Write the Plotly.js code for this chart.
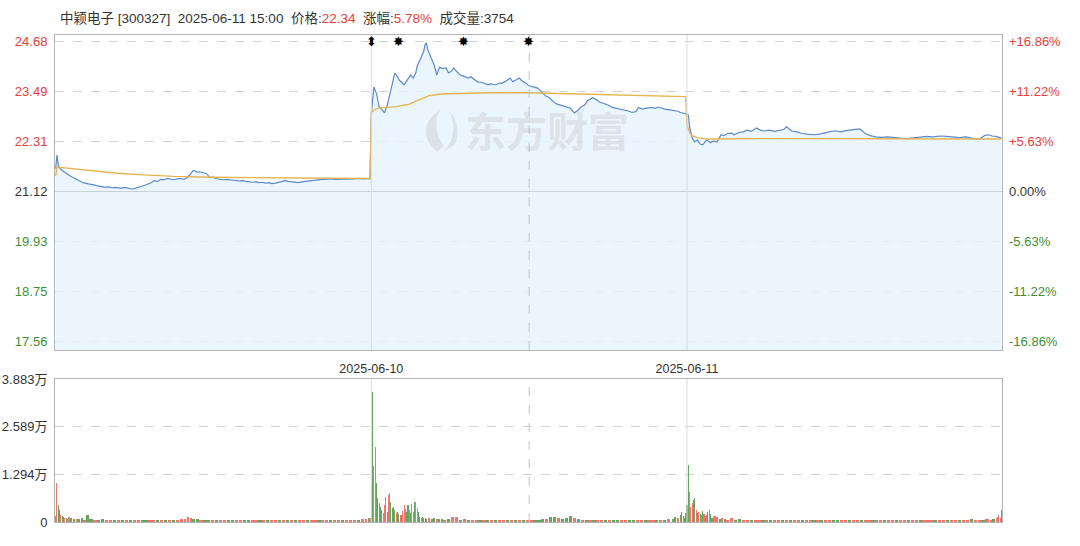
<!DOCTYPE html>
<html><head><meta charset="utf-8">
<script src="https://cdn.plot.ly/plotly-3.0.1.min.js"></script>
<style>html,body{margin:0;padding:0;background:#fff}#chart{width:1080px;height:546px}</style>
</head><body><div id="chart"></div>
<script>
// ---- data ----
const stockName = '中颖电子';
const stockCode = '300327';
const quoteTime = '2025-06-11 15:00';
const lastPrice = '22.34';
const changePct = '5.78%';
const lastVolume = '3754';
const prevClose = 21.12;

const priceTicks = [24.68, 23.49, 22.31, 21.12, 19.93, 18.75, 17.56];
const pctLabels = ['+16.86%', '+11.22%', '+5.63%', '0.00%', '-5.63%', '-11.22%', '-16.86%'];
const volTicks = [0, 12940, 25890, 38830];
const volLabels = ['0', '1.294万', '2.589万', '3.883万'];
const dayTickIdx = [241, 482];
const dayLabels = ['2025-06-10', '2025-06-11'];
const middayIdx = [361.5];
const eventIdx = [241, 262, 311, 361];
const eventSymbols = ['⬍', '✸', '✸', '✸'];

// minute index (3 sessions x 241 minutes) and price
const priceIdx = [
  0,1,2,3,5,8,10,12,14,17,19,21,25,28,30,33,35,38,40,43,45,48,50,53,55,58,60,63,65,68,70,73,75,78,80,83,85,88,90,93,95,98,100,102,103,105,107,108,110,112,115,118,120,122,125,128,131,135,138,140,143,145,148,150,153,155,158,160,163,165,168,170,173,175,178,180,183,185,188,190,193,195,198,200,203,205,208,210,213,215,218,220,223,225,228,230,233,235,238,240,
  241,242,243,244,245,247,249,251,253,255,257,259,261,262,264,266,268,271,273,275,276,278,280,281,282,283,284,286,288,289,291,293,295,298,300,302,304,306,309,311,313,315,317,320,322,325,327,330,332,336,339,341,344,347,349,351,354,356,359,361,364,366,368,370,372,374,377,379,381,383,385,388,390,393,396,399,401,404,406,410,413,415,418,420,423,425,428,430,433,436,438,440,443,445,448,450,453,455,458,460,463,465,468,470,473,475,477,479,481,
  482,483,484,486,488,490,492,494,497,500,502,505,508,510,513,516,518,522,525,528,531,535,538,541,545,549,553,556,558,562,566,570,575,580,584,588,592,596,600,603,607,611,614,618,622,626,630,635,640,645,650,655,660,665,670,675,680,685,690,695,700,703,706,709,712,715,718,722
];
const price = [
  21.66,21.99,21.75,21.68,21.62,21.55,21.50,21.47,21.44,21.40,21.37,21.33,21.30,21.29,21.27,21.25,21.24,21.22,21.23,21.21,21.22,21.21,21.20,21.22,21.21,21.18,21.19,21.21,21.24,21.27,21.30,21.33,21.38,21.36,21.41,21.40,21.43,21.41,21.40,21.42,21.43,21.41,21.44,21.50,21.55,21.62,21.60,21.58,21.59,21.57,21.55,21.45,21.46,21.43,21.41,21.40,21.41,21.39,21.38,21.37,21.38,21.36,21.35,21.34,21.35,21.33,21.34,21.32,21.33,21.31,21.32,21.34,21.36,21.38,21.36,21.35,21.34,21.33,21.35,21.36,21.37,21.38,21.39,21.40,21.41,21.41,21.42,21.42,21.41,21.41,21.42,21.42,21.41,21.41,21.42,21.43,21.42,21.42,21.43,21.42,
  22.99,23.30,23.61,23.52,23.45,23.13,23.08,22.99,23.15,23.42,23.70,23.94,23.85,23.78,23.72,23.66,23.75,23.89,23.82,23.95,24.10,24.25,24.37,24.45,24.61,24.66,24.50,24.37,24.20,24.13,23.89,24.08,24.05,24.06,23.94,23.98,24.06,23.98,23.89,23.87,23.85,23.82,23.85,23.78,23.73,23.72,23.70,23.66,23.68,23.66,23.70,23.70,23.75,23.82,23.73,23.76,23.82,23.75,23.70,23.64,23.61,23.60,23.58,23.52,23.45,23.40,23.35,23.28,23.23,23.20,23.18,23.15,23.13,23.10,22.99,23.06,23.13,23.18,23.28,23.35,23.30,23.25,23.22,23.20,23.16,23.12,23.10,23.08,23.06,23.04,23.03,23.00,23.02,23.12,23.08,23.10,23.11,23.12,23.10,23.13,23.10,23.08,23.07,23.06,23.04,23.03,23.00,22.99,22.97,22.96,22.94,
  22.66,22.39,22.30,22.35,22.25,22.23,22.35,22.28,22.32,22.30,22.47,22.45,22.50,22.51,22.47,22.53,22.54,22.58,22.55,22.63,22.58,22.56,22.58,22.55,22.57,22.60,22.66,22.56,22.54,22.50,22.48,22.47,22.49,22.52,22.55,22.56,22.54,22.57,22.58,22.60,22.61,22.50,22.45,22.42,22.41,22.42,22.40,22.39,22.38,22.40,22.42,22.43,22.42,22.44,22.43,22.42,22.40,22.42,22.38,22.37,22.38,22.45,22.47,22.44,22.43,22.39,22.37,22.34
];

const avgIdx = [0,1,5,15,30,45,60,90,120,160,200,240, 241,243,247,252,260,270,278,285,295,310,330,360,390,420,450,481, 482,484,486,490,495,500,540,600,660,722];
const avgPrice = [21.49,21.70,21.69,21.66,21.60,21.56,21.53,21.48,21.46,21.45,21.44,21.43, 22.99,23.06,23.11,23.12,23.14,23.20,23.30,23.40,23.44,23.46,23.47,23.47,23.45,23.42,23.40,23.38, 22.70,22.52,22.45,22.40,22.38,22.37,22.38,22.38,22.38,22.37];

const volIdx = [
  0,1,2,3,4,5,6,7,8,9,10,12,14,16,18,20,22,24,27,30,33,36,39,42,45,48,51,54,57,60,63,66,69,72,75,78,81,84,87,90,93,96,99,101,103,105,108,111,114,117,120,123,126,129,132,135,138,141,144,147,150,153,156,159,162,165,168,171,174,177,180,183,186,189,192,195,198,201,204,207,210,213,216,219,222,225,228,231,234,237,239,240,
  241,242,243,244,245,246,247,248,249,250,251,252,253,254,255,256,257,258,259,260,261,262,263,264,265,266,267,268,269,270,271,272,273,274,275,276,277,278,279,280,281,282,283,285,287,289,291,293,295,297,
  300,303,306,309,312,315,318,321,324,327,330,333,336,339,342,345,348,351,354,357,360,363,366,369,372,375,378,381,384,387,390,393,396,399,402,405,408,411,414,417,420,423,426,429,432,435,438,441,444,447,450,453,456,459,462,465,468,471,473,475,477,478,479,480,481,
  482,483,484,485,486,487,488,489,490,491,492,493,494,495,496,497,498,499,500,501,503,505,507,509,511,513,
  516,519,522,525,528,531,534,537,540,543,546,549,552,555,558,561,564,567,570,573,576,579,582,585,588,591,594,597,600,603,606,609,612,615,618,621,624,627,630,633,636,639,642,645,648,651,654,657,660,663,666,669,672,675,678,681,684,687,690,693,696,699,702,705,708,711,714,716,718,719,720,721,722
];
const volume = [
  1600,10600,4600,3300,1900,1600,1400,1200,1100,900,1300,1000,800,900,700,1100,600,1900,700,600,500,800,500,400,600,500,400,600,500,400,500,400,500,400,600,500,400,500,400,600,500,700,900,1400,1200,800,700,500,600,400,500,400,500,400,500,400,400,500,400,500,400,500,400,400,500,400,400,600,500,400,500,400,400,500,400,500,400,500,400,500,400,500,400,500,400,500,600,500,700,900,1000,1200,
  10000,35300,15200,20400,10600,6500,5200,4100,3300,2500,4600,6800,2600,7300,7900,5400,3800,4100,3300,2500,2800,2200,2000,1800,3000,4600,3500,2600,4600,3300,2500,4800,2800,5400,5400,3800,2700,1400,1200,1400,1100,1200,900,1100,800,1000,900,700,800,600,
  700,1400,1400,600,700,500,600,500,400,500,400,500,400,500,400,500,400,500,400,500,400,600,500,600,900,700,1400,1400,1000,700,1000,1500,1200,700,500,600,400,500,400,500,400,500,400,600,400,500,400,500,400,500,400,500,400,500,400,600,700,800,1400,1100,1900,2600,1500,1200,2400,
  4600,15500,8100,4100,5200,6000,6500,3300,2500,2800,2200,1900,3000,2200,1500,2000,2600,3300,2200,1200,1500,1300,900,1100,700,600,
  1000,500,800,500,600,400,500,400,500,400,400,500,400,500,400,400,500,400,400,500,400,500,400,600,400,500,400,600,500,400,500,400,500,400,400,500,400,500,400,500,400,400,500,400,500,400,400,500,400,500,400,600,500,400,500,400,500,400,500,600,500,700,500,600,500,700,600,800,1000,1400,1900,1200,3300
];
const volDir = (
  'rrggrggrgr rggrggrggr ggrrgrgrgr rggrrgrgrg rrrrrggrgg rgrrggrrgg rrgrgrrgrg rgrrgrrgrr grrgrrrgrr gr ' +
  'rgrrgggggr rrgrrggggr ggrgrrrggr grrgrrggrg grg rggrggr ' +
  'grrgrgrrgr grgrrgrgrg rrgggrggrg ggrgrgrgrr grggrrggrr grrgrgrg grggrgg ' +
  'ggrrrggrgr grgrgrgrgg rrgrgr ' +
  'rggrrgrrgr grrgrgrrgr rgrgrrggrr grrgrrgrrg rrgrrgrrgr rrgrrgrrgr rgrrgrr grrrrg'
).replace(/\s+/g, '').split('');

// ---- drawing ----
const RED = '#e8413a', GREEN = '#3f8f2f', DARK = '#333333';
const FONT = 'Liberation Sans, Arial, Noto Sans CJK SC, sans-serif';

const leftTickText = priceTicks.map(v => {
  const c = v > prevClose ? RED : (v < prevClose ? GREEN : DARK);
  return '<span style="color:' + c + '">' + v.toFixed(2) + '</span>';
});
const rightTickText = pctLabels.map(t => {
  const c = t.startsWith('+') ? RED : (t.startsWith('-') ? GREEN : DARK);
  return '<span style="color:' + c + '">' + t + '</span>';
});

const volWidths = volIdx.map((v, i) => {
  const next = i < volIdx.length - 1 ? volIdx[i + 1] - v : 1;
  return Math.max(0.75, Math.min(next, 3) * 0.8);
});
const volColors = volDir.map(d => d === 'r' ? 'rgba(240,70,60,0.75)' : 'rgba(50,135,40,0.75)');

const traces = [
  {x: priceIdx, y: price, type: 'scatter', mode: 'lines', fill: 'tozeroy',
   fillcolor: 'rgba(232,243,253,0.85)', line: {color: '#5b89c9', width: 1.2},
   xaxis: 'x', yaxis: 'y', hoverinfo: 'skip'},
  {x: avgIdx, y: avgPrice, type: 'scatter', mode: 'lines',
   line: {color: '#e3b24c', width: 1.3}, xaxis: 'x', yaxis: 'y', hoverinfo: 'skip'},
  {x: [0], y: [prevClose], type: 'scatter', mode: 'markers', marker: {opacity: 0},
   xaxis: 'x', yaxis: 'y2', hoverinfo: 'skip'},
  {x: volIdx, y: volume, type: 'bar', width: volWidths, marker: {color: volColors, line: {width: 0}},
   xaxis: 'x2', yaxis: 'y3', hoverinfo: 'skip'}
];

const xr = [-0.5, 722.5];
const priceRange = [17.35, 24.85];

// pixel helpers for the decorative watermark logo only
const PX = px => (px - 55) / 947 * 723 - 0.5;
const PY = py => 24.85 - (py - 34.7) * 7.5 / 315.3;
const pt = (x, y) => PX(x).toFixed(2) + ',' + PY(y).toFixed(3);

const shapes = [
  {type: 'line', xref: 'x domain', yref: 'y', x0: 0, x1: 1, y0: prevClose, y1: prevClose,
   line: {color: '#c9d1d9', width: 1}},
  {type: 'path', xref: 'x', yref: 'y', layer: 'above', line: {width: 0}, fillcolor: 'rgba(185,185,185,0.30)',
   path: 'M' + pt(437, 152) + ' Q' + pt(412, 130) + ' ' + pt(441, 108) + ' Q' + pt(430, 128) + ' ' + pt(444, 146) + ' Z'},
  {type: 'path', xref: 'x', yref: 'y', layer: 'above', line: {width: 0}, fillcolor: 'rgba(185,185,185,0.30)',
   path: 'M' + pt(444, 152) + ' Q' + pt(460, 132) + ' ' + pt(449, 110) + ' Q' + pt(462, 126) + ' ' + pt(455, 144) + ' Z'},
];
dayTickIdx.forEach(d => {
  shapes.push({type: 'line', xref: 'x', yref: 'y domain', x0: d, x1: d, y0: 0, y1: 1, line: {color: '#dcdcdc', width: 1}});
  shapes.push({type: 'line', xref: 'x2', yref: 'y3 domain', x0: d, x1: d, y0: 0, y1: 1, line: {color: '#dcdcdc', width: 1}});
});
middayIdx.forEach(d => {
  shapes.push({type: 'line', xref: 'x', yref: 'y domain', x0: d, x1: d, y0: 0, y1: 1, line: {color: '#c4c4c4', width: 1, dash: 'dash'}});
  shapes.push({type: 'line', xref: 'x2', yref: 'y3 domain', x0: d, x1: d, y0: 0, y1: 1, line: {color: '#c4c4c4', width: 1, dash: 'dash'}});
});

const annotations = [
  {xref: 'paper', yref: 'paper', x: 0.003, y: 0.967, xanchor: 'left', yanchor: 'middle', showarrow: false,
   font: {family: FONT, size: 13.5, color: DARK},
   text: stockName + ' [' + stockCode + ']&nbsp;&nbsp;' + quoteTime + '&nbsp;&nbsp;价格:<span style="color:' + RED + '">' + lastPrice +
         '</span>&nbsp;&nbsp;涨幅:<span style="color:' + RED + '">' + changePct + '</span>&nbsp;&nbsp;成交量:' + lastVolume},
  {xref: 'x', yref: 'y', x: PX(547), y: PY(129), xanchor: 'center', yanchor: 'middle', showarrow: false,
   font: {family: 'Noto Sans CJK SC', size: 41, color: 'rgba(175,175,175,0.26)', weight: 'bold'}, text: '东方财富'},
];
eventIdx.forEach((e, i) => {
  annotations.push({xref: 'x', yref: 'y', x: e, y: 24.68, xanchor: 'center', yanchor: 'middle', showarrow: false,
    font: {family: 'DejaVu Sans', size: 13, color: '#000'}, text: eventSymbols[i]});
});

const layout = {
  width: 1080, height: 546,
  margin: {l: 55, r: 78, t: 0, b: 0},
  paper_bgcolor: '#fff', plot_bgcolor: '#fff',
  showlegend: false, bargap: 0,
  font: {family: FONT, size: 13, color: DARK},
  xaxis: {domain: [0, 1], range: xr, anchor: 'y', showgrid: false, zeroline: false,
    tickvals: dayTickIdx, ticktext: dayLabels, ticks: '', ticklabelstandoff: 7,
    tickfont: {size: 12.5, color: DARK}, showline: true, linecolor: '#b4b4b4', mirror: true},
  yaxis: {domain: [0.359, 0.9364], range: priceRange, anchor: 'x', side: 'left',
    tickvals: priceTicks, ticktext: leftTickText, ticks: '', ticklabelstandoff: 4,
    showgrid: true, gridcolor: '#d2d2d2', griddash: 'dash', zeroline: false,
    showline: true, linecolor: '#b4b4b4', mirror: true, tickfont: {size: 13}},
  yaxis2: {overlaying: 'y', side: 'right', range: priceRange, anchor: 'x',
    tickvals: priceTicks, ticktext: rightTickText, ticks: '', ticklabelstandoff: 6,
    showgrid: false, zeroline: false, tickfont: {size: 13}},
  xaxis2: {domain: [0, 1], range: xr, anchor: 'y3', showgrid: false, zeroline: false,
    showticklabels: false, ticks: '', showline: true, linecolor: '#b4b4b4', mirror: true},
  yaxis3: {domain: [0.044, 0.3059], range: [0, 38830], anchor: 'x2',
    tickvals: volTicks, ticktext: volLabels, ticks: '', ticklabelstandoff: 4,
    showgrid: true, gridcolor: '#d2d2d2', griddash: 'dash', zeroline: false,
    showline: true, linecolor: '#b4b4b4', mirror: true, tickfont: {size: 13, color: DARK}},
  shapes: shapes,
  annotations: annotations
};

Plotly.newPlot('chart', traces, layout, {staticPlot: true, displayModeBar: false});
</script>
</body></html>
